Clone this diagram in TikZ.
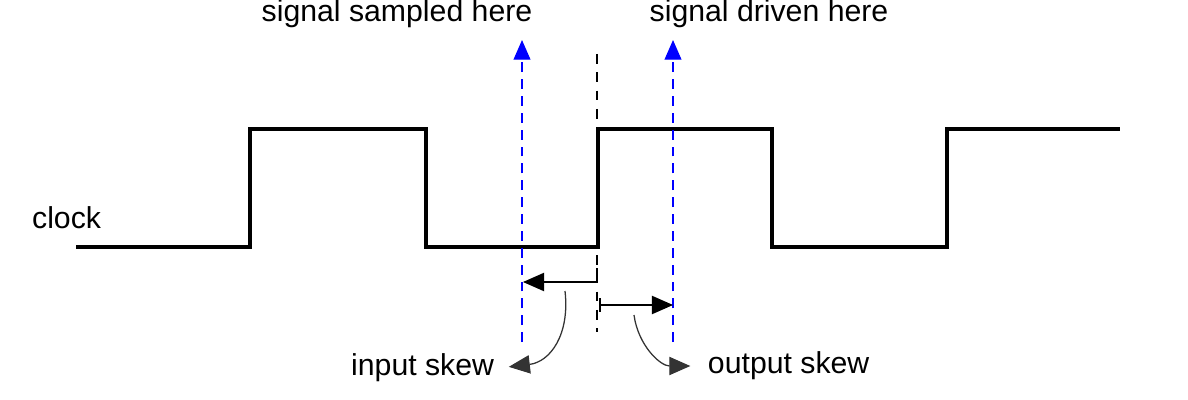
\documentclass[tikz,border=0pt]{standalone}
\usepackage{fontspec}
\setmainfont{Liberation Sans}
\usetikzlibrary{arrows.meta}

\begin{document}
\begin{tikzpicture}[x=0.025cm, y=-0.025cm, font=\fontsize{21.5}{25}\selectfont,
  wave/.style = {line width=2.2pt, line join=miter},
  marker/.style = {blue, dash pattern=on 7pt off 5pt, line width=0.9pt},
  edge/.style = {dash pattern=on 7pt off 6pt, line width=0.9pt},
  skew/.style = {-{Triangle[length=15pt,width=13pt]}, line width=0.9pt}]
\useasboundingbox (0,0) rectangle (1188,400);
\pgfmathsetmacro{\lo}{247} % low level
\pgfmathsetmacro{\hi}{129} % high level
% the clock
\draw[wave] (76,\lo) -- (250,\lo) -- (250,\hi) -- (426,\hi) -- (426,\lo) -- (598,\lo)
  -- (598,\hi) -- (772,\hi) -- (772,\lo) -- (947,\lo) -- (947,\hi) -- (1120,\hi);
\node[anchor=east] (clk) at (106,218) {clock};
% sample and drive points
\coordinate (sbot) at (522,342);
\coordinate (stop) at (522,40);
\coordinate (dbot) at (673,342);
\coordinate (dtop) at (673,40);
\coordinate (ebot) at (597,332);
\coordinate (etop) at (597,54);
\draw[marker, -{Triangle[length=14pt,width=12pt]}] (sbot) -- (stop);
\draw[marker, -{Triangle[length=14pt,width=12pt]}] (dbot) -- (dtop);
\draw[edge] (etop) -- (ebot);
\node (samp) at (397,14) {signal sampled here};
\node (drv) at (769,14) {signal driven here};
% the skews
\coordinate (ia) at (597,282);
\coordinate (ib) at (523,282);
\coordinate (oa) at (600,305);
\coordinate (ob) at (673,305);
\draw[line width=0.9pt] (597,268) -- (ia);
\draw[line width=0.9pt] (600,298) -- (600,312);
\draw[skew] (ia) -- (ib);
\draw[skew] (oa) -- (ob);
\node[anchor=east] (iskew) at (499,368) {input skew};
\node[anchor=west] (oskew) at (703,366) {output skew};
\coordinate (ic) at (565,291);
\coordinate (oc) at (634,315);
\draw[skew, black!80, shorten >=7pt] (ic) .. controls (570,335) and (550,362) .. (iskew.east);
\draw[skew, black!80, shorten >=9pt] (oc) .. controls (638,345) and (660,366) .. (oskew.west);
\end{tikzpicture}
\end{document}
